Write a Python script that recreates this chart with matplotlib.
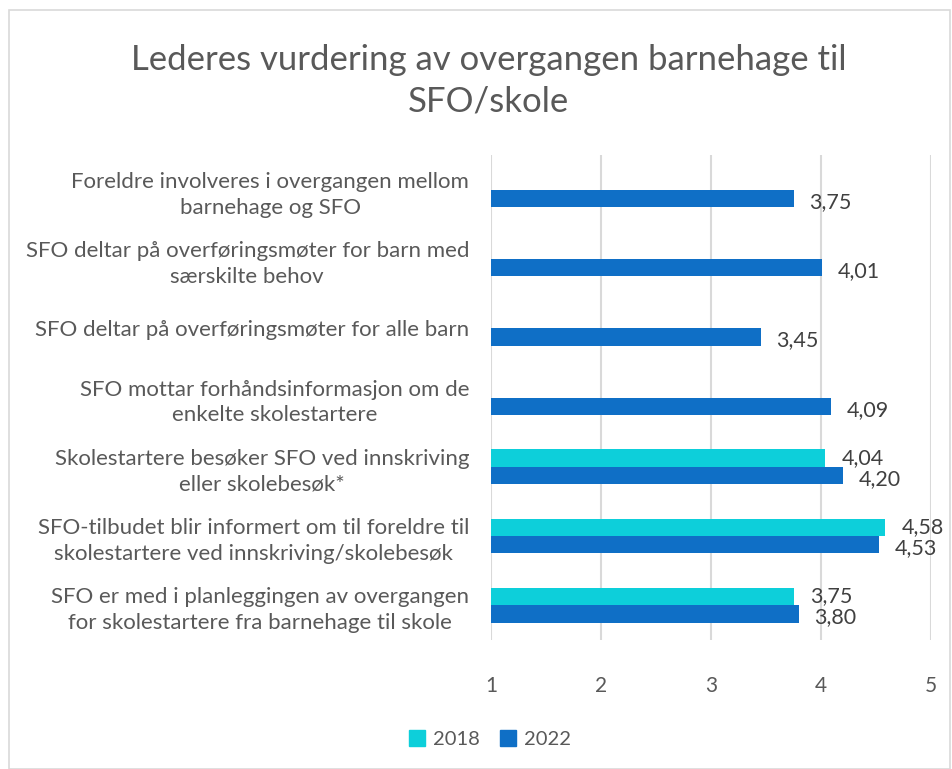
import numpy as np
import matplotlib.pyplot as plt
from matplotlib.patches import Rectangle, Patch

plt.rcParams['font.family'] = ['Lato', 'DejaVu Sans']

categories = [
    "Foreldre involveres i overgangen mellom\nbarnehage og SFO",
    "SFO deltar på overføringsmøter for barn med\nsærskilte behov",
    "SFO deltar på overføringsmøter for alle barn",
    "SFO mottar forhåndsinformasjon om de\nenkelte skolestartere",
    "Skolestartere besøker SFO ved innskriving\neller skolebesøk*",
    "SFO-tilbudet blir informert om til foreldre til\nskolestartere ved innskriving/skolebesøk",
    "SFO er med i planleggingen av overgangen\nfor skolestartere fra barnehage til skole",
]
vals_2018 = [np.nan, np.nan, np.nan, np.nan, 4.04, 4.58, 3.75]
vals_2022 = [3.75, 4.01, 3.45, 4.09, 4.20, 4.53, 3.80]
x_ticks = [1, 2, 3, 4, 5]

c2018 = '#0dcfda'
c2022 = '#0f6fc6'
txt = '#595959'

fig = plt.figure(figsize=(9.52, 7.69), dpi=100)
fig.patches.append(Rectangle((0.009, 0.0), 0.989, 0.987, transform=fig.transFigure,
                             fill=False, edgecolor='#d9d9d9', linewidth=1.2))
ax = fig.add_axes([0.516, 0.168, 0.462, 0.630])

y = np.arange(len(categories))
h = 0.25
ax.barh(y - h / 2, np.nan_to_num(vals_2018) - 1, left=1, height=h, color=c2018, zorder=3)
ax.barh(y + h / 2, np.array(vals_2022) - 1, left=1, height=h, color=c2022, zorder=3)

for i in range(len(categories)):
    if not np.isnan(vals_2018[i]):
        ax.annotate(f"{vals_2018[i]:.2f}".replace('.', ','), (vals_2018[i], y[i] - h / 2),
                    xytext=(12, 0), textcoords='offset points', va='center',
                    fontsize=15.5, color='#404040')
    ax.annotate(f"{vals_2022[i]:.2f}".replace('.', ','), (vals_2022[i], y[i] + h / 2 + 0.05),
                xytext=(11, 0), textcoords='offset points', va='center',
                fontsize=15.5, color='#404040')

ax.set_xlim(1, 5)
ax.set_ylim(len(categories) - 0.5, -0.5)
ax.set_xticks(x_ticks)
ax.set_xticklabels([str(t) for t in x_ticks])
ax.set_yticks(y)
ax.set_yticklabels(categories)
for lab in ax.get_yticklabels():
    lab.set_multialignment('center')
    lab.set_linespacing(1.35)
ax.tick_params(axis='x', length=0, pad=26, labelsize=15, labelcolor=txt)
ax.tick_params(axis='y', length=0, pad=16, labelsize=16, labelcolor=txt)
ax.grid(axis='x', color='#d9d9d9', linewidth=1.5, zorder=0)
for s in ax.spines.values():
    s.set_visible(False)

fig.text(0.513, 0.895, "Lederes vurdering av overgangen barnehage til\nSFO/skole",
         ha='center', va='center', fontsize=25, color=txt, linespacing=1.4)

handles = [Patch(color=c2018, label='2018'), Patch(color=c2022, label='2022')]
fig.legend(handles=handles, loc='center', bbox_to_anchor=(0.515, 0.039), ncol=2,
           frameon=False, fontsize=14.5, handlelength=0.8, handleheight=0.8,
           handletextpad=0.4, columnspacing=1.0, labelcolor=txt)

fig.savefig('out.png', dpi=100)
